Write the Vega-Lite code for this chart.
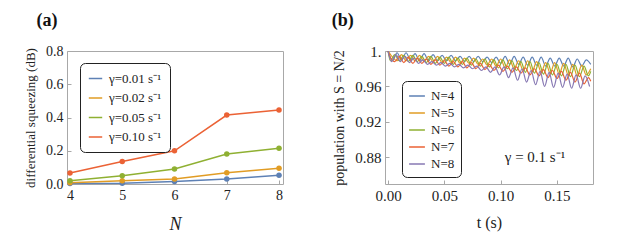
{
  "$schema": "https://vega.github.io/schema/vega-lite/v6.json",
  "background": "white",
  "padding": {"left": 23, "top": 11, "right": 5, "bottom": 5},
  "spacing": 47,
  "config": {
    "font": "Liberation Serif",
    "view": {"stroke": "#a8a8a8", "strokeWidth": 1},
    "axis": {"domain": false, "grid": false, "tickColor": "#a8a8a8", "tickSize": -4, "labelColor": "#222", "titleColor": "#222", "titleFontWeight": "normal", "labelFont": "Liberation Serif", "titleFont": "Liberation Serif"},
    "legend": {"labelFont": "Liberation Serif", "labelColor": "#222"},
    "text": {"font": "Liberation Serif"},
    "title": {"font": "Liberation Serif"}
  },
  "datasets": {
    "sq": [
      {"N": 4, "g": "γ=0.01 s⁻¹", "v": 0.003}, {"N": 5, "g": "γ=0.01 s⁻¹", "v": 0.005}, {"N": 6, "g": "γ=0.01 s⁻¹", "v": 0.015}, {"N": 7, "g": "γ=0.01 s⁻¹", "v": 0.03}, {"N": 8, "g": "γ=0.01 s⁻¹", "v": 0.053},
      {"N": 4, "g": "γ=0.02 s⁻¹", "v": 0.008}, {"N": 5, "g": "γ=0.02 s⁻¹", "v": 0.02}, {"N": 6, "g": "γ=0.02 s⁻¹", "v": 0.03}, {"N": 7, "g": "γ=0.02 s⁻¹", "v": 0.068}, {"N": 8, "g": "γ=0.02 s⁻¹", "v": 0.095},
      {"N": 4, "g": "γ=0.05 s⁻¹", "v": 0.02}, {"N": 5, "g": "γ=0.05 s⁻¹", "v": 0.05}, {"N": 6, "g": "γ=0.05 s⁻¹", "v": 0.09}, {"N": 7, "g": "γ=0.05 s⁻¹", "v": 0.18}, {"N": 8, "g": "γ=0.05 s⁻¹", "v": 0.215},
      {"N": 4, "g": "γ=0.10 s⁻¹", "v": 0.066}, {"N": 5, "g": "γ=0.10 s⁻¹", "v": 0.135}, {"N": 6, "g": "γ=0.10 s⁻¹", "v": 0.2}, {"N": 7, "g": "γ=0.10 s⁻¹", "v": 0.415}, {"N": 8, "g": "γ=0.10 s⁻¹", "v": 0.445}
    ],
    "pop": [
      {"s":"N=4","t":0,"p":1.000},{"s":"N=4","t":0.004,"p":0.989},{"s":"N=4","t":0.008,"p":0.998},{"s":"N=4","t":0.012,"p":0.990},{"s":"N=4","t":0.016,"p":0.998},{"s":"N=4","t":0.02,"p":0.990},{"s":"N=4","t":0.024,"p":0.997},{"s":"N=4","t":0.028,"p":0.989},{"s":"N=4","t":0.032,"p":0.997},{"s":"N=4","t":0.036,"p":0.989},{"s":"N=4","t":0.04,"p":0.996},{"s":"N=4","t":0.044,"p":0.989},{"s":"N=4","t":0.048,"p":0.995},{"s":"N=4","t":0.052,"p":0.989},{"s":"N=4","t":0.056,"p":0.995},{"s":"N=4","t":0.06,"p":0.989},{"s":"N=4","t":0.064,"p":0.994},{"s":"N=4","t":0.068,"p":0.988},{"s":"N=4","t":0.072,"p":0.994},{"s":"N=4","t":0.076,"p":0.988},{"s":"N=4","t":0.08,"p":0.994},{"s":"N=4","t":0.084,"p":0.988},{"s":"N=4","t":0.088,"p":0.993},{"s":"N=4","t":0.092,"p":0.987},{"s":"N=4","t":0.096,"p":0.993},{"s":"N=4","t":0.1,"p":0.986},{"s":"N=4","t":0.104,"p":0.994},{"s":"N=4","t":0.108,"p":0.985},{"s":"N=4","t":0.112,"p":0.994},{"s":"N=4","t":0.116,"p":0.985},{"s":"N=4","t":0.12,"p":0.993},{"s":"N=4","t":0.124,"p":0.984},{"s":"N=4","t":0.128,"p":0.993},{"s":"N=4","t":0.132,"p":0.984},{"s":"N=4","t":0.136,"p":0.993},{"s":"N=4","t":0.14,"p":0.983},{"s":"N=4","t":0.144,"p":0.992},{"s":"N=4","t":0.148,"p":0.983},{"s":"N=4","t":0.152,"p":0.992},{"s":"N=4","t":0.156,"p":0.983},{"s":"N=4","t":0.16,"p":0.992},{"s":"N=4","t":0.164,"p":0.982},{"s":"N=4","t":0.168,"p":0.991},{"s":"N=4","t":0.172,"p":0.983},{"s":"N=4","t":0.176,"p":0.990},{"s":"N=4","t":0.18,"p":0.985},
      {"s":"N=5","t":0,"p":1.000},{"s":"N=5","t":0.004,"p":0.993},{"s":"N=5","t":0.008,"p":0.989},{"s":"N=5","t":0.012,"p":0.996},{"s":"N=5","t":0.016,"p":0.989},{"s":"N=5","t":0.02,"p":0.995},{"s":"N=5","t":0.024,"p":0.989},{"s":"N=5","t":0.028,"p":0.995},{"s":"N=5","t":0.032,"p":0.988},{"s":"N=5","t":0.036,"p":0.994},{"s":"N=5","t":0.04,"p":0.988},{"s":"N=5","t":0.044,"p":0.994},{"s":"N=5","t":0.048,"p":0.987},{"s":"N=5","t":0.052,"p":0.993},{"s":"N=5","t":0.056,"p":0.987},{"s":"N=5","t":0.06,"p":0.993},{"s":"N=5","t":0.064,"p":0.986},{"s":"N=5","t":0.068,"p":0.992},{"s":"N=5","t":0.072,"p":0.986},{"s":"N=5","t":0.076,"p":0.992},{"s":"N=5","t":0.08,"p":0.985},{"s":"N=5","t":0.084,"p":0.991},{"s":"N=5","t":0.088,"p":0.984},{"s":"N=5","t":0.092,"p":0.991},{"s":"N=5","t":0.096,"p":0.983},{"s":"N=5","t":0.1,"p":0.991},{"s":"N=5","t":0.104,"p":0.981},{"s":"N=5","t":0.108,"p":0.990},{"s":"N=5","t":0.112,"p":0.980},{"s":"N=5","t":0.116,"p":0.989},{"s":"N=5","t":0.12,"p":0.978},{"s":"N=5","t":0.124,"p":0.989},{"s":"N=5","t":0.128,"p":0.977},{"s":"N=5","t":0.132,"p":0.988},{"s":"N=5","t":0.136,"p":0.976},{"s":"N=5","t":0.14,"p":0.987},{"s":"N=5","t":0.144,"p":0.975},{"s":"N=5","t":0.148,"p":0.987},{"s":"N=5","t":0.152,"p":0.974},{"s":"N=5","t":0.156,"p":0.986},{"s":"N=5","t":0.16,"p":0.973},{"s":"N=5","t":0.164,"p":0.985},{"s":"N=5","t":0.168,"p":0.972},{"s":"N=5","t":0.172,"p":0.984},{"s":"N=5","t":0.176,"p":0.973},{"s":"N=5","t":0.18,"p":0.980},
      {"s":"N=6","t":0,"p":1.000},{"s":"N=6","t":0.002,"p":0.989},{"s":"N=6","t":0.006,"p":0.996},{"s":"N=6","t":0.010,"p":0.989},{"s":"N=6","t":0.014,"p":0.995},{"s":"N=6","t":0.018,"p":0.988},{"s":"N=6","t":0.022,"p":0.995},{"s":"N=6","t":0.026,"p":0.988},{"s":"N=6","t":0.030,"p":0.994},{"s":"N=6","t":0.034,"p":0.987},{"s":"N=6","t":0.038,"p":0.994},{"s":"N=6","t":0.042,"p":0.986},{"s":"N=6","t":0.046,"p":0.993},{"s":"N=6","t":0.050,"p":0.986},{"s":"N=6","t":0.054,"p":0.993},{"s":"N=6","t":0.058,"p":0.985},{"s":"N=6","t":0.062,"p":0.992},{"s":"N=6","t":0.066,"p":0.985},{"s":"N=6","t":0.070,"p":0.992},{"s":"N=6","t":0.074,"p":0.984},{"s":"N=6","t":0.078,"p":0.991},{"s":"N=6","t":0.082,"p":0.983},{"s":"N=6","t":0.086,"p":0.991},{"s":"N=6","t":0.090,"p":0.982},{"s":"N=6","t":0.094,"p":0.990},{"s":"N=6","t":0.098,"p":0.981},{"s":"N=6","t":0.102,"p":0.990},{"s":"N=6","t":0.106,"p":0.980},{"s":"N=6","t":0.110,"p":0.989},{"s":"N=6","t":0.114,"p":0.978},{"s":"N=6","t":0.118,"p":0.988},{"s":"N=6","t":0.122,"p":0.976},{"s":"N=6","t":0.126,"p":0.988},{"s":"N=6","t":0.130,"p":0.975},{"s":"N=6","t":0.134,"p":0.987},{"s":"N=6","t":0.138,"p":0.974},{"s":"N=6","t":0.142,"p":0.986},{"s":"N=6","t":0.146,"p":0.973},{"s":"N=6","t":0.150,"p":0.985},{"s":"N=6","t":0.154,"p":0.972},{"s":"N=6","t":0.158,"p":0.985},{"s":"N=6","t":0.162,"p":0.971},{"s":"N=6","t":0.166,"p":0.984},{"s":"N=6","t":0.170,"p":0.971},{"s":"N=6","t":0.174,"p":0.983},{"s":"N=6","t":0.178,"p":0.972},{"s":"N=6","t":0.18,"p":0.977},
      {"s":"N=7","t":0,"p":1.000},{"s":"N=7","t":0.002,"p":0.993},{"s":"N=7","t":0.006,"p":0.988},{"s":"N=7","t":0.010,"p":0.994},{"s":"N=7","t":0.014,"p":0.987},{"s":"N=7","t":0.018,"p":0.993},{"s":"N=7","t":0.022,"p":0.986},{"s":"N=7","t":0.026,"p":0.992},{"s":"N=7","t":0.030,"p":0.986},{"s":"N=7","t":0.034,"p":0.991},{"s":"N=7","t":0.038,"p":0.985},{"s":"N=7","t":0.042,"p":0.990},{"s":"N=7","t":0.046,"p":0.984},{"s":"N=7","t":0.050,"p":0.989},{"s":"N=7","t":0.054,"p":0.983},{"s":"N=7","t":0.058,"p":0.988},{"s":"N=7","t":0.062,"p":0.982},{"s":"N=7","t":0.066,"p":0.988},{"s":"N=7","t":0.070,"p":0.981},{"s":"N=7","t":0.074,"p":0.987},{"s":"N=7","t":0.078,"p":0.980},{"s":"N=7","t":0.082,"p":0.986},{"s":"N=7","t":0.086,"p":0.979},{"s":"N=7","t":0.090,"p":0.985},{"s":"N=7","t":0.094,"p":0.978},{"s":"N=7","t":0.098,"p":0.984},{"s":"N=7","t":0.102,"p":0.977},{"s":"N=7","t":0.106,"p":0.983},{"s":"N=7","t":0.110,"p":0.976},{"s":"N=7","t":0.114,"p":0.982},{"s":"N=7","t":0.118,"p":0.975},{"s":"N=7","t":0.122,"p":0.981},{"s":"N=7","t":0.126,"p":0.973},{"s":"N=7","t":0.130,"p":0.980},{"s":"N=7","t":0.134,"p":0.972},{"s":"N=7","t":0.138,"p":0.979},{"s":"N=7","t":0.142,"p":0.970},{"s":"N=7","t":0.146,"p":0.978},{"s":"N=7","t":0.150,"p":0.969},{"s":"N=7","t":0.154,"p":0.977},{"s":"N=7","t":0.158,"p":0.967},{"s":"N=7","t":0.162,"p":0.976},{"s":"N=7","t":0.166,"p":0.965},{"s":"N=7","t":0.170,"p":0.975},{"s":"N=7","t":0.174,"p":0.963},{"s":"N=7","t":0.178,"p":0.970},{"s":"N=7","t":0.18,"p":0.966},
      {"s":"N=8","t":0,"p":1.000},{"s":"N=8","t":0.003,"p":0.988},{"s":"N=8","t":0.007,"p":0.996},{"s":"N=8","t":0.011,"p":0.988},{"s":"N=8","t":0.015,"p":0.994},{"s":"N=8","t":0.019,"p":0.987},{"s":"N=8","t":0.023,"p":0.992},{"s":"N=8","t":0.027,"p":0.986},{"s":"N=8","t":0.031,"p":0.990},{"s":"N=8","t":0.035,"p":0.985},{"s":"N=8","t":0.039,"p":0.988},{"s":"N=8","t":0.043,"p":0.984},{"s":"N=8","t":0.047,"p":0.987},{"s":"N=8","t":0.051,"p":0.983},{"s":"N=8","t":0.055,"p":0.986},{"s":"N=8","t":0.059,"p":0.982},{"s":"N=8","t":0.063,"p":0.985},{"s":"N=8","t":0.067,"p":0.981},{"s":"N=8","t":0.071,"p":0.984},{"s":"N=8","t":0.075,"p":0.980},{"s":"N=8","t":0.079,"p":0.983},{"s":"N=8","t":0.083,"p":0.978},{"s":"N=8","t":0.087,"p":0.982},{"s":"N=8","t":0.091,"p":0.976},{"s":"N=8","t":0.095,"p":0.982},{"s":"N=8","t":0.099,"p":0.973},{"s":"N=8","t":0.103,"p":0.982},{"s":"N=8","t":0.107,"p":0.970},{"s":"N=8","t":0.111,"p":0.981},{"s":"N=8","t":0.115,"p":0.967},{"s":"N=8","t":0.119,"p":0.980},{"s":"N=8","t":0.123,"p":0.965},{"s":"N=8","t":0.127,"p":0.978},{"s":"N=8","t":0.131,"p":0.962},{"s":"N=8","t":0.135,"p":0.977},{"s":"N=8","t":0.139,"p":0.960},{"s":"N=8","t":0.143,"p":0.976},{"s":"N=8","t":0.147,"p":0.959},{"s":"N=8","t":0.151,"p":0.975},{"s":"N=8","t":0.155,"p":0.959},{"s":"N=8","t":0.159,"p":0.974},{"s":"N=8","t":0.163,"p":0.958},{"s":"N=8","t":0.167,"p":0.973},{"s":"N=8","t":0.171,"p":0.958},{"s":"N=8","t":0.175,"p":0.972},{"s":"N=8","t":0.179,"p":0.960}
    ]
  },
  "resolve": {"scale": {"color": "independent"}, "legend": {"color": "independent"}},
  "hconcat": [
    {
      "title": {"text": "(a)", "anchor": "start", "frame": "bounds", "fontSize": 18, "fontWeight": "bold", "font": "Liberation Serif", "color": "#111", "offset": 14, "dx": 12},
      "width": 216,
      "height": 133,
      "data": {"name": "sq"},
      "encoding": {
        "x": {"field": "N", "type": "quantitative", "scale": {"domain": [3.943, 8.076], "nice": false, "zero": false},
          "axis": {"values": [4, 5, 6, 7, 8], "title": "N", "titleFontStyle": "italic", "titleFontSize": 18, "labelFontSize": 14, "labelPadding": 8, "titlePadding": 13, "labelFlush": false}},
        "y": {"field": "v", "type": "quantitative", "scale": {"domain": [0, 0.8], "nice": false},
          "axis": {"values": [0, 0.2, 0.4, 0.6, 0.8], "format": ".1f", "title": "differential squeezing (dB)", "titleFontSize": 13, "labelFontSize": 14, "labelPadding": 8, "titlePadding": 8}},
        "color": {"field": "g", "type": "nominal",
          "scale": {"domain": ["γ=0.01 s⁻¹", "γ=0.02 s⁻¹", "γ=0.05 s⁻¹", "γ=0.10 s⁻¹"], "range": ["#5E81B5", "#E19C24", "#8FB032", "#EB6235"]}}
      },
      "layer": [
        {"mark": {"type": "line", "strokeWidth": 1.5},
          "encoding": {"color": {"field": "g", "type": "nominal",
            "legend": {"orient": "none", "legendX": 13, "legendY": 12, "title": null, "symbolType": "stroke", "symbolSize": 180, "symbolStrokeWidth": 1.5, "labelFont": "Liberation Serif", "labelFontSize": 13, "rowPadding": 4.5, "padding": 8, "strokeColor": "#222", "cornerRadius": 5, "fillColor": "white", "labelOffset": 6}}}},
        {"mark": {"type": "point", "filled": true, "size": 30, "opacity": 1}, "encoding": {"color": {"field": "g", "type": "nominal", "legend": null}}}
      ]
    },
    {
      "title": {"text": "(b)", "anchor": "start", "frame": "bounds", "fontSize": 18, "fontWeight": "bold", "font": "Liberation Serif", "color": "#111", "offset": 14, "dx": -1},
      "width": 208,
      "height": 133,
      "layer": [
        {
          "data": {"name": "pop"},
          "mark": {"type": "line", "strokeWidth": 1.2, "interpolate": "monotone", "clip": true},
          "encoding": {
            "x": {"field": "t", "type": "quantitative", "scale": {"domain": [-0.0027, 0.182], "nice": false, "zero": false},
              "axis": {"values": [0, 0.05, 0.1, 0.15], "format": ".2f", "title": "t (s)", "titleFontSize": 16, "labelFontSize": 15, "labelPadding": 8, "titlePadding": 11, "labelFlush": false}},
            "y": {"field": "p", "type": "quantitative", "scale": {"domain": [0.85, 1.0], "nice": false, "zero": false},
              "axis": {"values": [0.88, 0.92, 0.96, 1.0], "labelExpr": "datum.value >= 0.999 ? '1.' : format(datum.value, '.2f')", "title": "population with S = N/2", "titleFontSize": 14, "labelFontSize": 15, "labelPadding": 8, "titlePadding": 8}},
            "color": {"field": "s", "type": "nominal",
              "scale": {"domain": ["N=4", "N=5", "N=6", "N=7", "N=8"], "range": ["#5E81B5", "#E19C24", "#8FB032", "#EB6235", "#8778B3"]},
              "legend": {"orient": "none", "legendX": 17, "legendY": 30, "title": null, "symbolType": "stroke", "symbolSize": 250, "symbolStrokeWidth": 1.5, "labelFont": "Liberation Serif", "labelFontSize": 13, "rowPadding": 1, "padding": 6, "strokeColor": "#222", "cornerRadius": 5, "fillColor": "white", "labelOffset": 5}}
          }
        },
        {
          "data": {"values": [{}]},
          "mark": {"type": "text", "fontSize": 15, "font": "Liberation Serif", "color": "#222", "text": "γ = 0.1 s⁻¹"},
          "encoding": {"x": {"datum": 0.1305}, "y": {"datum": 0.88}}
        }
      ]
    }
  ]
}
